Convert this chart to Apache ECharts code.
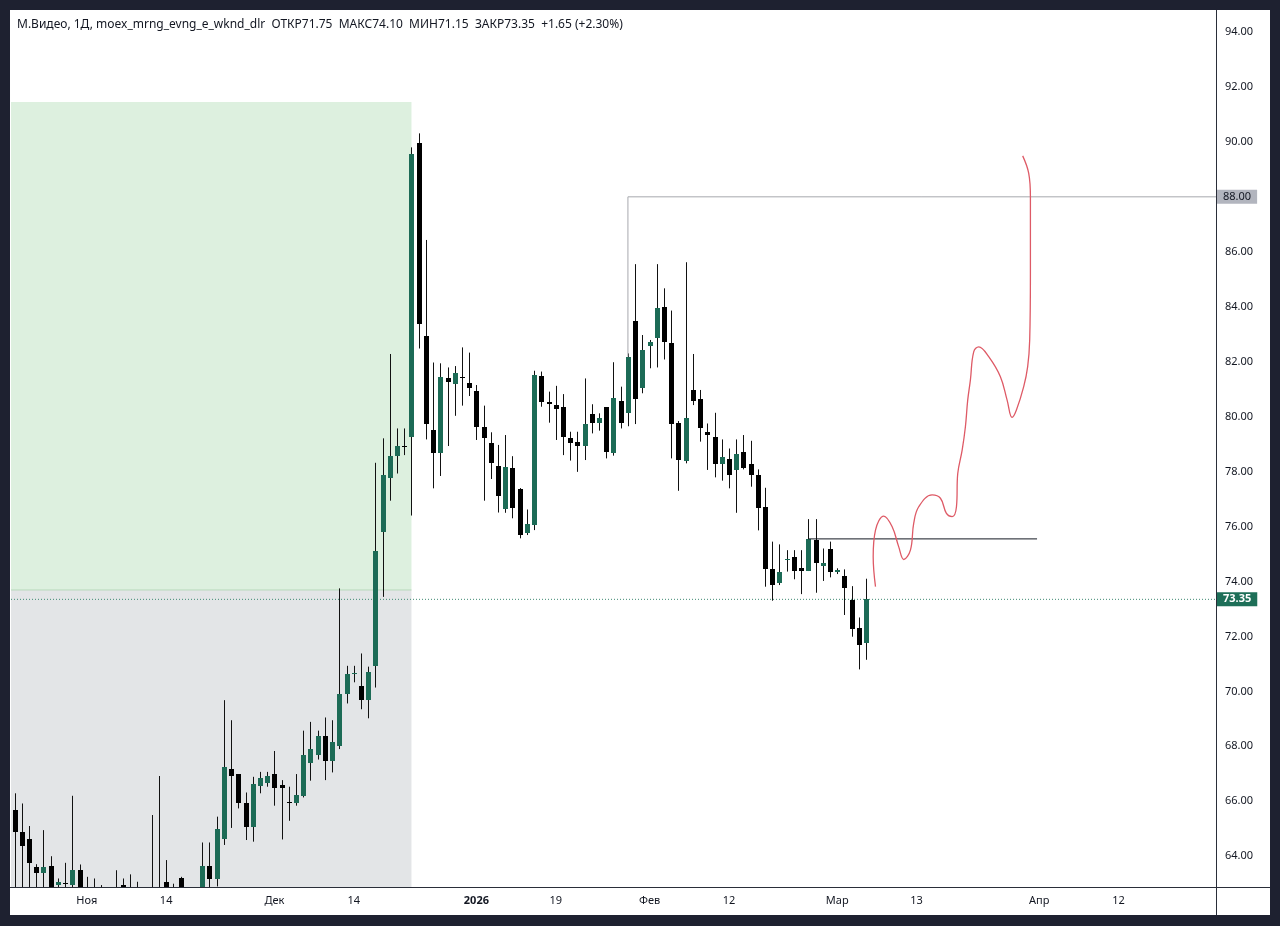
<!DOCTYPE html>
<html>
<head>
<meta charset="utf-8">
<script src="https://cdn.jsdelivr.net/npm/echarts@6/dist/echarts.min.js"></script>
<style>
  html, body { margin: 0; padding: 0; background: #1e2130; }
  #frame { position: absolute; left: 10px; top: 10px; width: 1260px; height: 905px; background: #fff; }
  #chart { width: 1260px; height: 905px; }
  /* линии шкал во всю ширину/высоту рамки */
  .hline { position: absolute; left: 0; top: 877px; width: 1260px; height: 1px; background: #2a2e39; z-index: 5; }
  .vline { position: absolute; left: 1206px; top: 0; width: 1px; height: 905px; background: #2a2e39; z-index: 5; }
</style>
</head>
<body>
<div id="frame">
  <div id="chart"></div>
  <div class="hline"></div>
  <div class="vline"></div>
</div>
<script>
// дневные свечи, индекс бара 0..118
const opens = [
  65.68, 64.87, 64.63, 63.59, 63.40, 63.64, 62.95, 63.04, 62.95, 63.49,
  62.70, 62.50, 62.60, 62.40, 62.30, 62.95, 62.70, 62.50, 62.60, 62.40,
  62.60, 63.05, 62.80, 63.19, 62.70, 62.50, 62.60, 63.64, 63.17, 64.62,
  67.18, 66.98, 65.92, 65.07, 66.56, 66.65, 66.98, 66.59, 65.98, 65.92,
  66.20, 67.40, 67.70, 68.37, 67.46, 68.01, 69.89, 70.64, 70.19, 69.68,
  70.93, 75.81, 77.78, 78.57, 78.92, 79.27, 89.97, 82.93, 79.51, 78.66,
  81.39, 81.17, 81.43, 81.23, 80.93, 79.61, 79.03, 78.21, 76.62, 78.12,
  77.37, 75.77, 76.05, 81.48, 80.52, 80.42, 80.34, 79.21, 79.06, 78.93,
  80.08, 79.75, 80.35, 78.66, 80.57, 80.12, 83.48, 81.03, 82.57, 82.87,
  84.00, 82.67, 79.78, 78.40, 80.97, 80.63, 79.45, 79.27, 78.27, 78.46,
  78.06, 78.72, 78.27, 77.87, 76.72, 74.44, 73.95, 74.78, 74.90, 74.48,
  74.38, 75.51, 74.57, 75.18, 74.33, 74.21, 73.32, 72.29, 71.75
]
const highs = [
  66.29, 65.92, 65.10, 63.71, 64.95, 64.00, 63.19, 63.76, 66.20, 63.70,
  63.25, 63.19, 62.95, 62.80, 63.49, 63.19, 63.34, 63.07, 62.85, 65.50,
  66.92, 63.86, 63.00, 63.25, 62.85, 62.80, 64.50, 64.50, 65.44, 69.68,
  68.95, 66.98, 66.32, 66.89, 67.07, 67.07, 67.83, 66.77, 66.53, 66.99,
  68.57, 68.89, 68.57, 69.05, 68.95, 73.75, 70.93, 70.93, 71.38, 70.90,
  78.32, 79.21, 82.28, 79.57, 79.57, 89.80, 90.31, 86.43, 81.97, 81.94,
  81.79, 81.84, 82.52, 82.33, 81.15, 80.40, 79.43, 78.97, 79.33, 78.56,
  77.40, 76.62, 81.67, 81.64, 80.91, 81.12, 80.82, 79.45, 79.45, 81.39,
  80.45, 80.12, 80.35, 81.98, 81.09, 82.30, 85.55, 82.97, 82.79, 85.55,
  84.67, 83.86, 79.84, 85.62, 82.28, 80.97, 79.75, 80.14, 79.17, 78.84,
  79.17, 79.33, 79.12, 78.08, 77.41, 75.45, 75.35, 75.14, 75.14, 75.14,
  76.27, 76.27, 75.20, 75.45, 74.48, 74.44, 73.83, 72.69, 74.10
]
const lows = [
  62.50, 62.60, 62.80, 62.70, 62.70, 62.50, 62.60, 62.70, 62.60, 62.50,
  62.20, 62.10, 62.10, 62.00, 61.90, 62.30, 62.20, 62.10, 62.20, 62.00,
  62.10, 62.40, 62.30, 62.40, 62.20, 62.10, 62.40, 62.50, 62.90, 64.41,
  65.03, 65.74, 64.59, 64.53, 66.29, 66.53, 65.84, 64.61, 65.29, 65.84,
  66.14, 66.75, 67.52, 66.77, 67.05, 67.90, 69.56, 70.33, 69.35, 69.02,
  70.14, 73.44, 76.94, 77.93, 78.60, 76.40, 82.48, 79.17, 77.39, 77.84,
  78.93, 80.03, 80.40, 80.75, 79.15, 76.94, 77.73, 76.51, 76.50, 76.30,
  75.57, 75.69, 75.87, 80.36, 79.78, 79.15, 78.60, 78.40, 77.99, 78.42,
  79.39, 79.49, 78.48, 78.58, 79.57, 79.65, 79.73, 80.85, 81.76, 81.79,
  82.08, 78.48, 77.30, 78.30, 80.42, 79.09, 78.06, 77.79, 77.67, 77.39,
  76.50, 78.08, 77.45, 75.86, 73.81, 73.30, 73.87, 74.36, 74.08, 73.54,
  74.38, 73.59, 74.02, 74.15, 74.27, 72.78, 71.99, 70.80, 71.15
]
const closes = [
  64.87, 64.38, 63.74, 63.40, 63.59, 62.70, 63.05, 62.98, 63.49, 62.80,
  62.50, 62.60, 62.40, 62.30, 62.50, 62.70, 62.50, 62.60, 62.40, 62.60,
  62.70, 62.80, 62.60, 62.70, 62.50, 62.60, 63.64, 63.17, 64.99, 67.23,
  66.93, 65.92, 65.07, 66.63, 66.83, 66.93, 66.47, 66.47, 65.92, 66.23,
  67.68, 67.92, 68.37, 67.46, 68.17, 69.89, 70.63, 70.66, 69.68, 70.69,
  75.11, 77.87, 78.57, 78.93, 78.88, 89.56, 83.37, 79.72, 78.66, 81.43,
  81.27, 81.57, 81.43, 81.03, 79.61, 79.21, 78.32, 77.12, 78.18, 76.66,
  75.69, 76.09, 81.51, 80.54, 80.45, 80.27, 79.27, 79.03, 78.93, 79.73,
  79.75, 79.96, 78.71, 80.69, 79.75, 82.18, 80.63, 82.42, 82.73, 83.96,
  82.73, 79.72, 78.42, 79.96, 80.58, 79.57, 79.33, 78.27, 78.52, 77.87,
  78.63, 78.12, 77.87, 76.67, 74.44, 73.87, 74.33, 74.83, 74.38, 74.38,
  75.54, 74.69, 74.68, 74.33, 74.42, 73.77, 72.26, 71.70, 73.35
]

// шкала времени: всего мест под бары, подписи
const barSlots = 167
const tickIdx = [10, 21, 36, 47, 64, 75, 88, 99, 114, 125, 142, 153]
const tickText = ['Ноя', '14', 'Дек', '14', '2026', '19', 'Фев', '12', 'Мар', '13', 'Апр', '12']

// ценовая шкала
const priceMin = 62.88
const priceMax = 94.8
const priceTicks = [64, 66, 68, 70, 72, 74, 76, 78, 80, 82, 84, 86, 88, 90, 92, 94]

// зона позиции (слева до бара 55)
const zoneEnd = 55
const zoneTop = 91.45
const zoneEntry = 73.69

// уровни
const ray88X = [85, 85, 166.5]
const ray88Y = [82.18, 88, 88]
const ray75X = [110, 141.7]
const ray75Y = [75.55, 75.55]

// красная рука
const drawX = [119.31, 118.99, 119.31, 120.46, 121.62, 122.53, 123.23, 124.15, 124.61, 125.30,
  127.16, 128.31, 129.14, 129.93, 130.53, 130.71, 131.32, 131.77, 132.09, 132.46,
  132.92, 133.62, 135.00, 136.62, 137.55, 138.24, 138.84, 139.85, 140.40, 140.68,
  140.78, 140.78, 140.54, 139.71]
const drawY = [73.81, 74.90, 75.87, 76.38, 75.99, 75.26, 74.80, 75.14, 76.12, 76.72,
  77.15, 77.03, 76.48, 76.36, 76.72, 77.93, 78.78, 79.63, 80.60, 81.33,
  82.36, 82.54, 82.18, 81.45, 80.60, 79.97, 80.24, 81.09, 81.82, 82.79,
  85.22, 88.00, 88.86, 89.49]

const FONT = '"Noto Sans", "DejaVu Sans", sans-serif'
const TXT = '#131722'
const UP = '#1c6b56'
const DOWN = '#000000'

const n = opens.length
const last = n - 1
const lastPrice = closes[last]
const chg = closes[last] - closes[last - 1]
const chgPct = chg / closes[last - 1] * 100
const sign = chg >= 0 ? '+' : ''
const titleText = 'М.Видео, 1Д, moex_mrng_evng_e_wknd_dlr  ' +
  'ОТКР' + opens[last].toFixed(2) + '  МАКС' + highs[last].toFixed(2) +
  '  МИН' + lows[last].toFixed(2) + '  ЗАКР' + closes[last].toFixed(2) +
  '  ' + sign + chg.toFixed(2) + ' (' + sign + chgPct.toFixed(2) + '%)'

const categories = []
for (let i = 0; i < barSlots; i++) categories.push(String(i))

// [индекс, откр, закр, мин, макс]
const candleData = opens.map((o, i) => [i, o, closes[i], lows[i], highs[i]])

// свеча: тень чёрная, тело зелёное/чёрное; обрезка по сетке
function renderCandle(params, api) {
  const i = api.value(0)
  const o = api.value(1)
  const c = api.value(2)
  const pO = api.coord([i, o])
  const pC = api.coord([i, c])
  const pL = api.coord([i, api.value(3)])
  const pH = api.coord([i, api.value(4)])
  const x = Math.round(pO[0])
  const top = Math.round(Math.min(pO[1], pC[1]))
  const bot = Math.round(Math.max(pO[1], pC[1]))
  return {
    type: 'group',
    children: [
      {
        type: 'line',
        shape: { x1: x + 0.5, y1: pH[1], x2: x + 0.5, y2: pL[1] },
        style: { stroke: '#111', lineWidth: 1 }
      },
      {
        type: 'rect',
        shape: { x: x - 2, y: top, width: 5, height: Math.max(1, bot - top) },
        style: { fill: c > o ? UP : DOWN }
      }
    ]
  }
}

const noLine = { symbol: 'none', showSymbol: false, silent: true, xAxisIndex: 1, yAxisIndex: 0 }

const chart = echarts.init(document.getElementById('chart'))
chart.setOption({
  animation: false,
  backgroundColor: '#fff',
  title: {
    text: titleText,
    left: 7,
    top: 9,
    padding: 0,
    textStyle: { fontFamily: FONT, fontSize: 12, fontWeight: 'normal', color: TXT }
  },
  grid: { left: 1, right: 54, top: 0, bottom: 28 },
  xAxis: [
    {
      type: 'category',
      data: categories,
      boundaryGap: true,
      axisLine: { show: false },
      axisTick: { show: false },
      splitLine: { show: false },
      axisLabel: {
        interval: (i) => tickIdx.includes(i),
        formatter: (v, i) => {
          const t = tickText[tickIdx.indexOf(i)] || ''
          return t === '2026' ? '{b|' + t + '}' : t
        },
        margin: 8,
        color: TXT,
        fontFamily: FONT,
        fontSize: 11,
        rich: { b: { fontWeight: 'bold', fontFamily: FONT, fontSize: 11, color: TXT } }
      }
    },
    { type: 'value', min: -0.5, max: barSlots - 0.5, show: false }
  ],
  yAxis: {
    type: 'value',
    position: 'right',
    min: priceMin,
    max: priceMax,
    axisLine: { show: false },
    axisTick: { show: false },
    splitLine: { show: false },
    axisLabel: {
      customValues: priceTicks,
      formatter: (v) => v.toFixed(2),
      margin: 9,
      color: TXT,
      fontFamily: FONT,
      fontSize: 11
    }
  },
  series: [
    {
      // зона позиции + линия входа
      name: 'zone',
      type: 'line',
      ...noLine,
      z: 1,
      data: [[-0.5, zoneEntry], [zoneEnd, zoneEntry]],
      lineStyle: { color: '#b7d9bb', width: 1 },
      markArea: {
        silent: true,
        data: [
          [{ coord: [-0.5, zoneTop], itemStyle: { color: '#ddf0df' } }, { coord: [zoneEnd, zoneEntry] }],
          [{ coord: [-0.5, zoneEntry], itemStyle: { color: '#e3e5e7' } }, { coord: [zoneEnd, priceMin] }]
        ]
      }
    },
    {
      name: 'last',
      type: 'line',
      ...noLine,
      z: 3,
      data: [[-0.5, lastPrice], [barSlots - 0.5, lastPrice]],
      lineStyle: { color: '#3f8a73', width: 1, type: [1, 2] },
      endLabel: {
        show: true,
        formatter: () => lastPrice.toFixed(2),
        distance: 1,
        backgroundColor: '#1e6f58',
        color: '#fff',
        fontFamily: FONT,
        fontSize: 11,
        fontWeight: 'bold',
        padding: [2, 6, 1, 6]
      }
    },
    {
      name: 'candles',
      type: 'custom',
      xAxisIndex: 0,
      yAxisIndex: 0,
      z: 4,
      clip: true,
      silent: true,
      renderItem: renderCandle,
      encode: { x: 0, y: [1, 2, 3, 4] },
      data: candleData
    },
    {
      name: 'ray88',
      type: 'line',
      ...noLine,
      z: 6,
      data: ray88X.map((x, i) => [x, ray88Y[i]]),
      lineStyle: { color: '#a7a9ae', width: 1 },
      endLabel: {
        show: true,
        formatter: () => ray88Y[ray88Y.length - 1].toFixed(2),
        distance: 1,
        backgroundColor: '#b2b5be',
        color: TXT,
        fontFamily: FONT,
        fontSize: 11,
        padding: [2, 6, 1, 6]
      }
    },
    {
      name: 'ray75',
      type: 'line',
      ...noLine,
      z: 6,
      data: ray75X.map((x, i) => [x, ray75Y[i]]),
      lineStyle: { color: '#131722', width: 1 }
    },
    {
      name: 'hand',
      type: 'line',
      ...noLine,
      z: 7,
      smooth: 0.4,
      data: drawX.map((x, i) => [x, drawY[i]]),
      lineStyle: { color: '#de5a66', width: 1.3 }
    }
  ]
})
</script>
</body>
</html>
